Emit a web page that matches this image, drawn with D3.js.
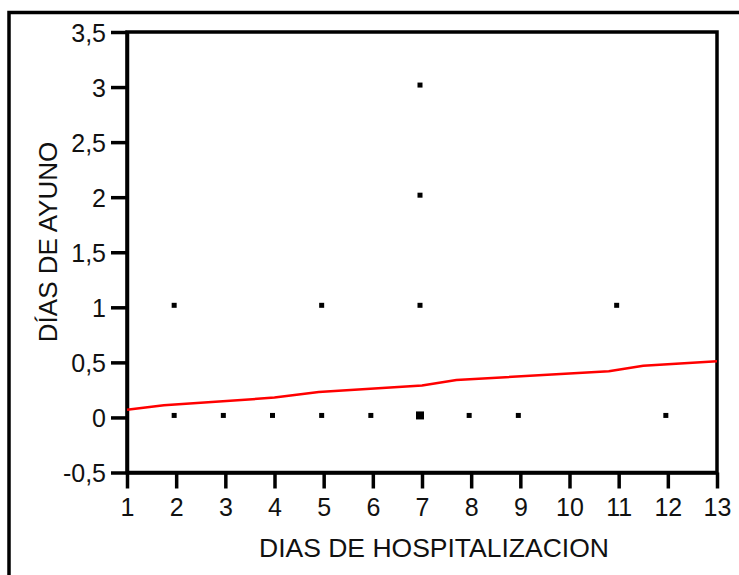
<!DOCTYPE html>
<html>
<head>
<meta charset="utf-8">
<script src="https://cdn.jsdelivr.net/npm/d3@7"></script>
<style>
  html, body { margin: 0; padding: 0; background: #fff; }
  svg { display: block; font-family: "Liberation Sans", Arial, sans-serif; }
</style>
</head>
<body>
<svg id="chart" width="739" height="575"></svg>
<script>
// Observations: days of hospitalization vs. days of fasting
const hospDays = [2, 3, 4, 5, 6, 7, 8, 9, 12, 2, 5, 7, 11, 7, 7];
const fastDays = [0, 0, 0, 0, 0, 0, 0, 0, 0, 1, 1, 1, 1, 2, 3];
const caseCount = [1, 1, 1, 1, 1, 4, 1, 1, 1, 1, 1, 1, 1, 1, 1];

// Smoothed fit line
const fitX = [1, 1.75, 4, 4.9, 7, 7.7, 10.8, 11.5, 13];
const fitY = [0.07, 0.11, 0.18, 0.23, 0.29, 0.34, 0.42, 0.47, 0.51];

const xTicks = [1, 2, 3, 4, 5, 6, 7, 8, 9, 10, 11, 12, 13];
const yTicks = [-0.5, 0, 0.5, 1, 1.5, 2, 2.5, 3, 3.5];

const xTitle = "DIAS DE HOSPITALIZACION";
const yTitle = "DÍAS DE AYUNO";

const svg = d3.select("#chart");
const plot = { left: 127, top: 32, right: 717, bottom: 472.5 };

const x = d3.scaleLinear().domain([1, 13]).range([plot.left, plot.right]);
const y = d3.scaleLinear().domain([-0.5, 3.5]).range([plot.bottom, plot.top]);
const comma = d => String(d).replace(".", ",");

// Outer frame
svg.append("rect")
  .attr("x", 9).attr("y", 12.5)
  .attr("width", 760).attr("height", 600)
  .attr("fill", "none").attr("stroke", "#000").attr("stroke-width", 3.5);

// Plot box
svg.append("rect")
  .attr("x", plot.left).attr("y", plot.top)
  .attr("width", plot.right - plot.left).attr("height", plot.bottom - plot.top)
  .attr("fill", "none").attr("stroke", "#000").attr("stroke-width", 3.5);

// Axes
const yAxis = d3.axisLeft(y).tickValues(yTicks).tickFormat(comma)
  .tickSizeInner(16).tickSizeOuter(0).tickPadding(5);
const xAxis = d3.axisBottom(x).tickValues(xTicks).tickFormat(d3.format("d"))
  .tickSizeInner(16).tickSizeOuter(0).tickPadding(9);

const gy = svg.append("g").attr("transform", `translate(${plot.left},0)`).call(yAxis);
const gx = svg.append("g").attr("transform", `translate(0,${plot.bottom})`).call(xAxis);

[gy, gx].forEach(g => {
  g.select(".domain").attr("stroke", "#000").attr("stroke-width", 3.5);
  g.selectAll(".tick line").attr("stroke", "#000").attr("stroke-width", 3.5);
  g.selectAll(".tick text")
    .attr("fill", "#111")
    .style("font-family", "'Liberation Sans', Arial, sans-serif")
    .style("font-size", "25px");
});
gy.selectAll(".tick text").attr("dy", "0.36em");
gx.selectAll(".tick text").attr("dy", "0.72em");

// Fit line
const line = d3.line().x(d => x(d[0])).y(d => y(d[1]));
svg.append("path")
  .datum(fitX.map((v, i) => [v, fitY[i]]))
  .attr("d", line)
  .attr("fill", "none")
  .attr("stroke", "#ff0000")
  .attr("stroke-width", 2.5);

// Points (larger marker where several cases coincide)
const size = d => d.n > 1 ? 8 : 5;
const pts = hospDays.map((v, i) => ({ h: v, f: fastDays[i], n: caseCount[i] }));
svg.append("g").selectAll("rect")
  .data(pts)
  .join("rect")
  .attr("x", d => x(d.h) - 2 - size(d) / 2)
  .attr("y", d => y(d.f) - 2 - size(d) / 2)
  .attr("width", size)
  .attr("height", size)
  .attr("fill", "#000");

// Axis titles
svg.append("text")
  .attr("x", 434).attr("y", 557)
  .attr("text-anchor", "middle")
  .attr("fill", "#111")
  .style("font-size", "26.5px")
  .text(xTitle);

svg.append("text")
  .attr("transform", "translate(57,242) rotate(-90)")
  .attr("text-anchor", "middle")
  .attr("fill", "#111")
  .style("font-size", "26px")
  .text(yTitle);
</script>
</body>
</html>
